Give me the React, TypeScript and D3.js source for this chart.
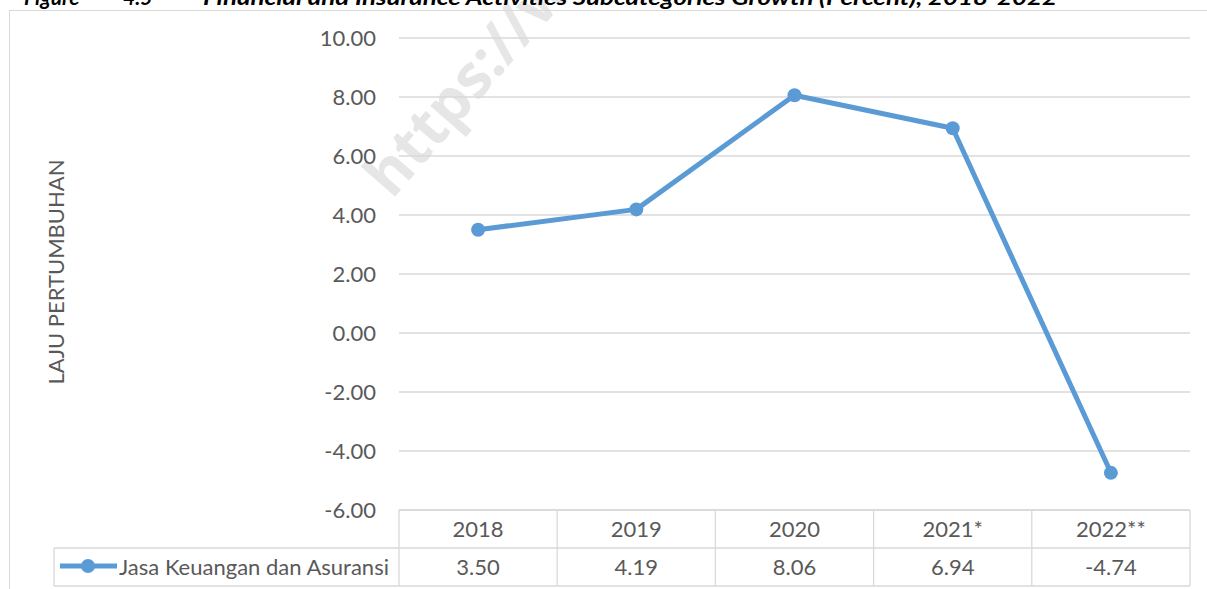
import React from "react";
import * as d3 from "d3";

const categories = ["2018", "2019", "2020", "2021*", "2022**"];
const seriesName = "Jasa Keuangan dan Asuransi";
const values = [3.5, 4.19, 8.06, 6.94, -4.74];
const valueLabels = ["3.50", "4.19", "8.06", "6.94", "-4.74"];
const yTicks = [10, 8, 6, 4, 2, 0, -2, -4, -6];
const yTitle = "LAJU PERTUMBUHAN";
const title = "Financial and Insurance Activities Subcategories Growth (Percent), 2018-2022";
const watermark = "https://www.bps.go.id";

const W = 1207;
const H = 589;
const FONT = "Lato, 'Open Sans', sans-serif";
const GRID = "#d9d9d9";
const TXT = "#595959";
const BLUE = "#5B9BD5";
const FS = 22;

export default function App() {
  const x = d3.scaleBand<string>().domain(categories).range([399, 1190]).padding(0);
  const y = d3.scaleLinear().domain([-6, 10]).range([510, 38]);
  const cx = (c: string) => (x(c) as number) + x.bandwidth() / 2;
  const line = d3
    .line<number>()
    .x((_, i) => cx(categories[i]))
    .y((d) => y(d));
  const rowTop = 510;
  const rowMid = 548;
  const rowBot = 586;
  const legendLeft = 54;

  return (
    <svg
      width={W}
      height={H}
      style={{ position: "absolute", left: 0, top: 0, background: "#fff" }}
      fontFamily={FONT}
    >
      <rect x={0} y={0} width={W} height={H} fill="#fff" />

      {/* watermark (behind everything) */}
      <text
        transform="translate(392,200) rotate(-49)"
        fontSize={60}
        fontWeight="bold"
        fill="#e6e6e6"
        fontFamily="'Open Sans', Lato, sans-serif"
      >
        {watermark}
      </text>

      {/* title (cut off at the top, as in the source) */}
      <text x={24} y={5} fontSize={21} fontWeight="bold" fontStyle="italic" fill="#000">
        Figure
      </text>
      <text x={123} y={5} fontSize={21} fontWeight="bold" fontStyle="italic" fill="#000">
        4.5
      </text>
      <text
        x={203}
        y={5}
        fontSize={21}
        fontWeight="bold"
        fontStyle="italic"
        fill="#000"
        textLength={854}
        lengthAdjust="spacingAndGlyphs"
      >
        {title}
      </text>
      {/* chart area border */}
      <rect x={9.5} y={10.5} width={W + 10} height={H + 10} fill="none" stroke={GRID} strokeWidth={1} />

      {/* gridlines */}
      {yTicks.map((t) => (
        <line key={t} x1={399} x2={1190} y1={y(t)} y2={y(t)} stroke={GRID} strokeWidth={1.3} />
      ))}
      {/* y tick labels */}
      {yTicks.map((t) => (
        <text key={t} x={376} y={y(t)} dy="0.35em" textAnchor="end" fontSize={FS} fill={TXT}>
          {t.toFixed(2)}
        </text>
      ))}
      {/* y axis title */}
      <text
        transform={`translate(64,${(38 + 510) / 2 - 2}) rotate(-90)`}
        textAnchor="middle"
        fontSize={FS}
        fill={TXT}
      >
        {yTitle}
      </text>

      {/* series */}
      <path d={line(values) || ""} fill="none" stroke={BLUE} strokeWidth={5} strokeLinejoin="round" />
      {values.map((v, i) => (
        <circle key={i} cx={cx(categories[i])} cy={y(v)} r={7} fill={BLUE} />
      ))}

      {/* data table */}
      <g stroke={GRID} strokeWidth={1.3} fill="none">
        <line x1={399} x2={1190} y1={rowTop} y2={rowTop} />
        <line x1={legendLeft} x2={1190} y1={rowMid} y2={rowMid} />
        <line x1={legendLeft} x2={1190} y1={rowBot} y2={rowBot} />
        <line x1={legendLeft} x2={legendLeft} y1={rowMid} y2={rowBot} />
        {categories.map((c) => (
          <line key={c} x1={x(c) as number} x2={x(c) as number} y1={rowTop} y2={rowBot} />
        ))}
        <line x1={1190} x2={1190} y1={rowTop} y2={rowBot} />
      </g>
      {categories.map((c) => (
        <text key={c} x={cx(c)} y={(rowTop + rowMid) / 2} dy="0.35em" textAnchor="middle" fontSize={FS} fill={TXT}>
          {c}
        </text>
      ))}
      {valueLabels.map((l, i) => (
        <text
          key={i}
          x={cx(categories[i])}
          y={(rowMid + rowBot) / 2}
          dy="0.35em"
          textAnchor="middle"
          fontSize={FS}
          fill={TXT}
        >
          {l}
        </text>
      ))}
      {/* legend key */}
      <line x1={60} x2={117} y1={566} y2={566} stroke={BLUE} strokeWidth={5} />
      <circle cx={88} cy={566} r={7} fill={BLUE} />
      <text x={119} y={567} dy="0.35em" fontSize={FS} fill={TXT}>
        {seriesName}
      </text>
    </svg>
  );
}
